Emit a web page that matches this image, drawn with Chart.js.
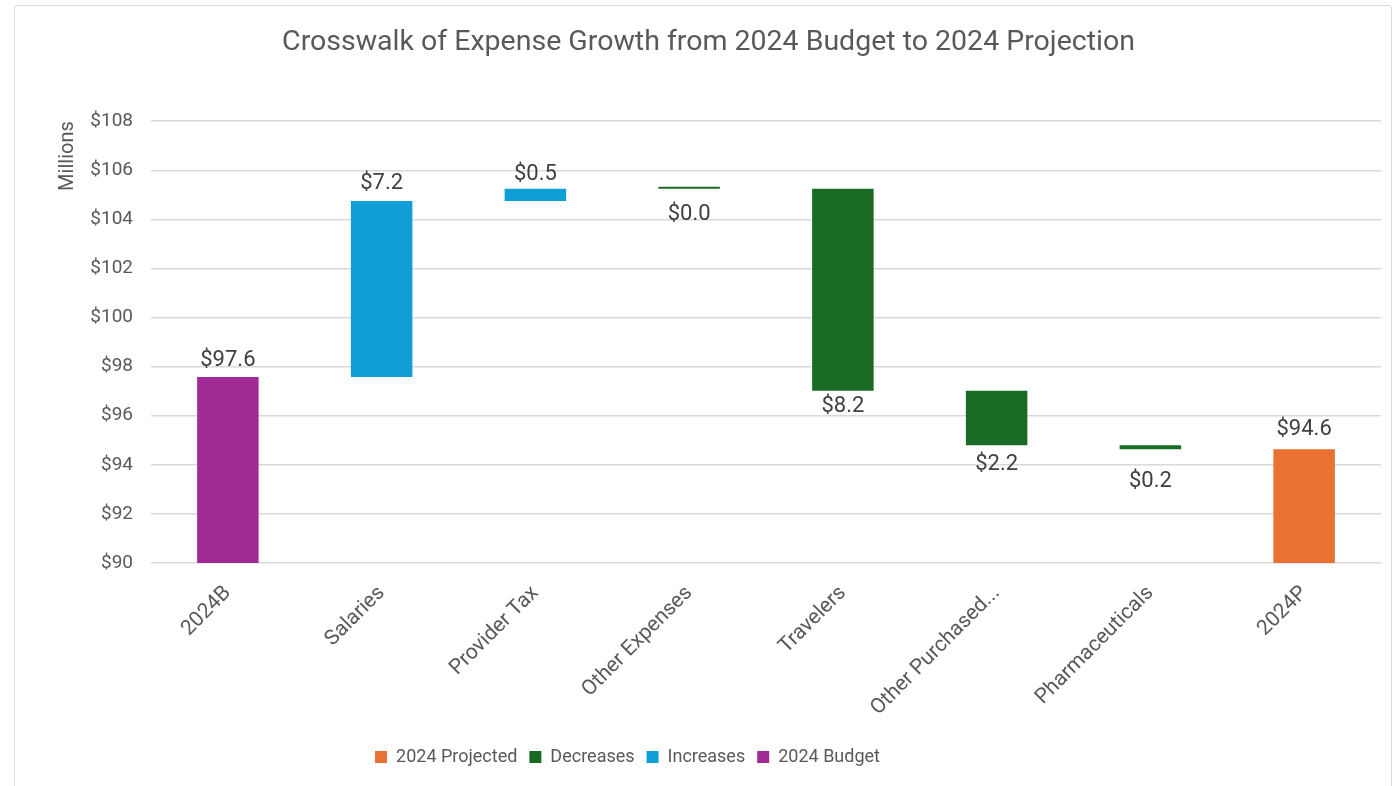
<!DOCTYPE html>
<html>
<head>
<meta charset="utf-8">
<script src="https://cdn.jsdelivr.net/npm/chart.js@4.4.1/dist/chart.umd.min.js"></script>
<style>
  html, body { margin: 0; padding: 0; background: #ffffff; width: 1397px; height: 786px; overflow: hidden; }
  #frame { position: absolute; left: 14px; top: 5px; width: 1378px; height: 820px; border: 1.5px solid #d9d9d9; border-radius: 3px; box-sizing: border-box; }
  #wrap { position: absolute; left: 0; top: 0; width: 1397px; height: 786px; }
</style>
</head>
<body>
<div id="frame"></div>
<div id="wrap"><canvas id="c" width="1397" height="786"></canvas></div>
<script>
// Expense crosswalk, $ millions
const categories = ['2024B', 'Salaries', 'Provider Tax', 'Other Expenses', 'Travelers', 'Other Purchased...', 'Pharmaceuticals', '2024P'];
const budgetTotal = 97.58;
const stepChanges = [7.17, 0.50, 0.00, -8.23, -2.22, -0.17];   // Salaries .. Pharmaceuticals
const yTickValues = [90, 92, 94, 96, 98, 100, 102, 104, 106, 108];
const seriesNames = ['2024 Projected', 'Decreases', 'Increases', '2024 Budget'];

// vertical nudge of each value label from its bar edge (px)
const labelOffsets = [-16, -17, -14, 26, 16, 19, 32, -20];

const COLORS = {
  projected: '#E97132',
  decreases: '#196B24',
  increases: '#0F9ED5',
  budget: '#A02B93'
};
const TEXT = '#595959';
const FONT = 'Roboto, "Liberation Sans", sans-serif';

// running totals -> floating bars
const n = categories.length;
const budgetData = new Array(n).fill(null);
const projectedData = new Array(n).fill(null);
const incData = new Array(n).fill(null);
const decData = new Array(n).fill(null);
const labelValues = new Array(n).fill(0);

budgetData[0] = budgetTotal;
labelValues[0] = budgetTotal;
let running = budgetTotal;
stepChanges.forEach((d, i) => {
  const idx = i + 1;
  const start = running;
  running = running + d;
  if (d > 0) incData[idx] = [start, running];
  else decData[idx] = [start, running];
  labelValues[idx] = Math.abs(d);
});
projectedData[n - 1] = running;
labelValues[n - 1] = running;

const valueLabels = {
  id: 'valueLabels',
  afterDatasetsDraw(chart) {
    const ctx = chart.ctx;
    ctx.save();
    ctx.font = '22px ' + FONT;
    ctx.fillStyle = '#404040';
    ctx.textAlign = 'center';
    ctx.textBaseline = 'middle';
    chart.data.datasets.forEach((ds, di) => {
      const meta = chart.getDatasetMeta(di);
      meta.data.forEach((el, i) => {
        if (ds.data[i] === null || ds.data[i] === undefined) return;
        const top = Math.min(el.y, el.base);
        const bottom = Math.max(el.y, el.base);
        const off = labelOffsets[i];
        const y = off < 0 ? top + off : bottom + off;
        ctx.fillText('$' + labelValues[i].toFixed(1), el.x, y);
      });
    });
    ctx.restore();
  }
};

// Nudge the title right and the legend left
const blockShift = {
  id: 'blockShift',
  afterLayout(chart) {
    const lg = chart.legend;
    if (lg) { lg.left -= 70; lg.right -= 70; }
    const tb = chart.titleBlock;
    if (tb) { tb.left += 11; tb.right += 11; }
  }
};

new Chart(document.getElementById('c'), {
  type: 'bar',
  data: {
    labels: categories,
    datasets: [
      { label: seriesNames[0], data: projectedData, backgroundColor: COLORS.projected },
      { label: seriesNames[1], data: decData, backgroundColor: COLORS.decreases, minBarLength: 2 },
      { label: seriesNames[2], data: incData, backgroundColor: COLORS.increases },
      { label: seriesNames[3], data: budgetData, backgroundColor: COLORS.budget }
    ]
  },
  options: {
    responsive: false,
    animation: false,
    devicePixelRatio: 1,
    categoryPercentage: 1,
    barPercentage: 0.4,
    layout: { padding: { left: 14, right: 16, top: 0, bottom: 10 } },
    plugins: {
      title: {
        display: true,
        text: 'Crosswalk of Expense Growth from 2024 Budget to 2024 Projection',
        color: TEXT,
        font: { family: FONT, size: 28.5, weight: 'normal' },
        padding: { top: 26, bottom: 61 }
      },
      legend: {
        position: 'bottom',
        labels: {
          color: TEXT,
          font: { family: FONT, size: 18 },
          boxWidth: 12,
          boxHeight: 12,
          padding: 12
        }
      },
      tooltip: { enabled: false }
    },
    scales: {
      x: {
        stacked: true,
        grid: { display: false },
        border: { display: false },
        ticks: {
          color: TEXT,
          font: { family: FONT, size: 21 },
          minRotation: 45,
          maxRotation: 45,
          padding: 10
        },
        afterFit(scale) { scale.height = 173; }
      },
      y: {
        min: 90,
        max: 108,
        afterBuildTicks(scale) { scale.ticks = yTickValues.map(v => ({ value: v })); },
        ticks: {
          color: TEXT,
          font: { family: FONT, size: 19 },
          padding: 18,
          callback: v => '$' + v
        },
        grid: { color: '#d9d9d9', lineWidth: 1.5, drawTicks: false },
        border: { display: false },
        title: {
          display: true,
          text: 'Millions',
          align: 'end',
          color: TEXT,
          font: { family: FONT, size: 20 },
          padding: { top: 42, bottom: 0 }
        },
        afterFit(scale) { scale.width = 137; }
      }
    }
  },
  plugins: [valueLabels, blockShift]
});
</script>
</body>
</html>
